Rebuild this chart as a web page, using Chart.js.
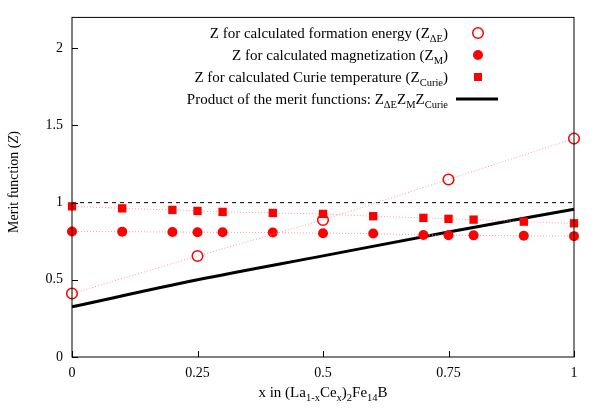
<!DOCTYPE html>
<html>
<head>
<meta charset="utf-8">
<script src="https://cdn.jsdelivr.net/npm/chart.js@4"></script>
<style>
  html, body { margin: 0; padding: 0; background: #fff; }
  #wrap { width: 600px; height: 419px; }
</style>
</head>
<body>
<div id="wrap"><canvas id="meritChart" width="600" height="419"></canvas></div>
<script>
// values
const xFormation = [0, 0.25, 0.5, 0.75, 1];
const zFormation = [0.411, 0.654, 0.888, 1.15, 1.415];

const xComp = [0, 0.1, 0.2, 0.25, 0.3, 0.4, 0.5, 0.6, 0.7, 0.75, 0.8, 0.9, 1];
const zMagnet = [0.813, 0.812, 0.81, 0.808, 0.808, 0.806, 0.802, 0.80, 0.79, 0.789, 0.788, 0.785, 0.783];
const zCurie = [0.976, 0.963, 0.953, 0.946, 0.94, 0.933, 0.927, 0.912, 0.901, 0.895, 0.89, 0.877, 0.866];

const xProduct = [0, 0.25, 0.5, 0.75, 1];
const zProduct = [0.325, 0.5, 0.655, 0.81, 0.957];

const xTicks = [0, 0.25, 0.5, 0.75, 1];
const yTicks = [0, 0.5, 1, 1.5, 2];

const serif = '"Liberation Serif", "DejaVu Serif", serif';
const red = '#ff0000';
const pink = '#ff9c9c';

const pts = (xs, ys) => xs.map((x, i) => ({ x: x, y: ys[i] }));

// legend entries: text parts [string, isSubscript]
const legendRows = [
    { parts: [['Z for calculated formation energy (Z', 0], ['\u0394E', 1], [')', 0]], kind: 'open' },
    { parts: [['Z for calculated magnetization (Z', 0], ['M', 1], [')', 0]], kind: 'dot' },
    { parts: [['Z for calculated Curie temperature (Z', 0], ['Curie', 1], [')', 0]], kind: 'square' },
    { parts: [['Product of the merit functions: Z', 0], ['\u0394E', 1], ['Z', 0], ['M', 1], ['Z', 0], ['Curie', 1]], kind: 'line' }
];

function richWidth(ctx, parts, size, subSize) {
    let w = 0;
    parts.forEach(p => {
        ctx.font = (p[1] ? subSize : size) + 'px ' + serif;
        w += ctx.measureText(p[0]).width;
    });
    return w;
}

function drawRich(ctx, parts, x, y, size, subSize, align) {
    const w = richWidth(ctx, parts, size, subSize);
    let cx = align === 'right' ? x - w : (align === 'center' ? x - w / 2 : x);
    ctx.textAlign = 'left';
    ctx.textBaseline = 'alphabetic';
    parts.forEach(p => {
        ctx.font = (p[1] ? subSize : size) + 'px ' + serif;
        ctx.fillText(p[0], cx, y + (p[1] ? 4 : 0));
        cx += ctx.measureText(p[0]).width;
    });
}

const decorations = {
    id: 'decorations',
    afterDraw(chart) {
        const ctx = chart.ctx;
        const a = chart.chartArea;
        const xs = chart.scales.x;
        const ys = chart.scales.y;
        ctx.save();
        ctx.fillStyle = '#000';
        ctx.strokeStyle = '#000';
        ctx.lineWidth = 1;

        // frame
        ctx.strokeRect(a.left, a.top, a.right - a.left, a.bottom - a.top);

        // inner tick marks
        ctx.beginPath();
        yTicks.forEach(v => {
            const py = Math.round(ys.getPixelForValue(v)) + 0.5;
            ctx.moveTo(a.left, py);
            ctx.lineTo(a.left + 6, py);
        });
        xTicks.forEach(v => {
            const px = Math.round(xs.getPixelForValue(v)) + 0.5;
            ctx.moveTo(px, a.bottom);
            ctx.lineTo(px, a.bottom - 6);
        });
        ctx.stroke();

        // axis titles
        drawRich(ctx, [['x in (La', 0], ['1-x', 1], ['Ce', 0], ['x', 1], [')', 0], ['2', 1], ['Fe', 0], ['14', 1], ['B', 0]],
            (a.left + a.right) / 2, 397, 15, 10.5, 'center');

        ctx.save();
        ctx.translate(18, 182);
        ctx.rotate(-Math.PI / 2);
        ctx.textBaseline = 'alphabetic';
        const t1 = 'Merit function (';
        ctx.font = 'italic 14px ' + serif;
        const wz = ctx.measureText('Z').width;
        ctx.font = '14px ' + serif;
        const w1 = ctx.measureText(t1).width;
        const w2 = ctx.measureText(')').width;
        let sx = -(w1 + wz + w2) / 2;
        ctx.textAlign = 'left';
        ctx.fillText(t1, sx, 0);
        ctx.font = 'italic 14px ' + serif;
        ctx.fillText('Z', sx + w1, 0);
        ctx.font = '14px ' + serif;
        ctx.fillText(')', sx + w1 + wz, 0);
        ctx.restore();

        // legend
        const rowY = [38, 60, 82, 104];
        legendRows.forEach((row, i) => {
            const y = rowY[i];
            ctx.fillStyle = '#000';
            drawRich(ctx, row.parts, 448, y, 15, 10.5, 'right');
            const cy = y - 5;
            if (row.kind === 'open') {
                ctx.beginPath();
                ctx.strokeStyle = red;
                ctx.lineWidth = 1.5;
                ctx.arc(478, cy, 5.3, 0, Math.PI * 2);
                ctx.stroke();
            } else if (row.kind === 'dot') {
                ctx.beginPath();
                ctx.fillStyle = red;
                ctx.arc(478, cy, 5, 0, Math.PI * 2);
                ctx.fill();
            } else if (row.kind === 'square') {
                ctx.fillStyle = red;
                ctx.fillRect(474, cy - 4, 8, 8);
            } else {
                ctx.beginPath();
                ctx.strokeStyle = '#000';
                ctx.lineWidth = 3;
                ctx.moveTo(456, cy);
                ctx.lineTo(498, cy);
                ctx.stroke();
            }
        });
        ctx.restore();
    }
};

const ctx = document.getElementById('meritChart').getContext('2d');

const data = {
    datasets: [
        {
            label: 'Z for calculated formation energy',
            data: pts(xFormation, zFormation),
            showLine: true,
            borderColor: pink,
            borderWidth: 1,
            borderDash: [1, 2],
            pointStyle: 'circle',
            pointRadius: 5.3,
            pointBorderWidth: 1.5,
            pointBorderColor: red,
            pointBackgroundColor: 'rgba(0,0,0,0)'
        },
        {
            label: 'Z for calculated magnetization',
            data: pts(xComp, zMagnet),
            showLine: true,
            borderColor: pink,
            borderWidth: 1,
            borderDash: [1, 2],
            pointStyle: 'circle',
            pointRadius: 5,
            pointBorderWidth: 0,
            pointBackgroundColor: red
        },
        {
            label: 'Z for calculated Curie temperature',
            data: pts(xComp, zCurie),
            showLine: true,
            borderColor: pink,
            borderWidth: 1,
            borderDash: [1, 2],
            pointStyle: 'rect',
            pointRadius: 5.9,
            pointBorderWidth: 0,
            pointBackgroundColor: red
        },
        {
            label: 'Product of the merit functions',
            data: pts(xProduct, zProduct),
            showLine: true,
            borderColor: '#000',
            borderWidth: 3,
            cubicInterpolationMode: 'monotone',
            pointRadius: 0
        },
        {
            label: 'Z = 1',
            data: pts([0, 1], [1, 1]),
            showLine: true,
            borderColor: '#000',
            borderWidth: 1,
            borderDash: [4, 4],
            pointRadius: 0
        }
    ]
};

const config = {
    type: 'scatter',
    data: data,
    options: {
        responsive: false,
        animation: false,
        clip: false,
        layout: { padding: { top: 16, right: 26, left: 0, bottom: 0 } },
        plugins: {
            legend: { display: false },
            tooltip: { enabled: false }
        },
        scales: {
            x: {
                type: 'linear',
                min: 0,
                max: 1,
                afterFit: s => { s.height = 62; },
                afterBuildTicks: s => { s.ticks = xTicks.map(v => ({ value: v })); },
                grid: { display: false, drawTicks: false },
                border: { display: false },
                ticks: {
                    padding: 8,
                    color: '#000',
                    font: { family: serif, size: 14 },
                    maxRotation: 0,
                    callback: v => String(v)
                }
            },
            y: {
                type: 'linear',
                min: 0,
                max: 2.2,
                afterFit: s => { s.width = 72; },
                afterBuildTicks: s => { s.ticks = yTicks.map(v => ({ value: v })); },
                grid: { display: false, drawTicks: false },
                border: { display: false },
                ticks: {
                    padding: 9,
                    color: '#000',
                    font: { family: serif, size: 14 },
                    callback: v => String(v)
                }
            }
        }
    },
    plugins: [decorations]
};

const meritChart = new Chart(ctx, config);
</script>
</body>
</html>
